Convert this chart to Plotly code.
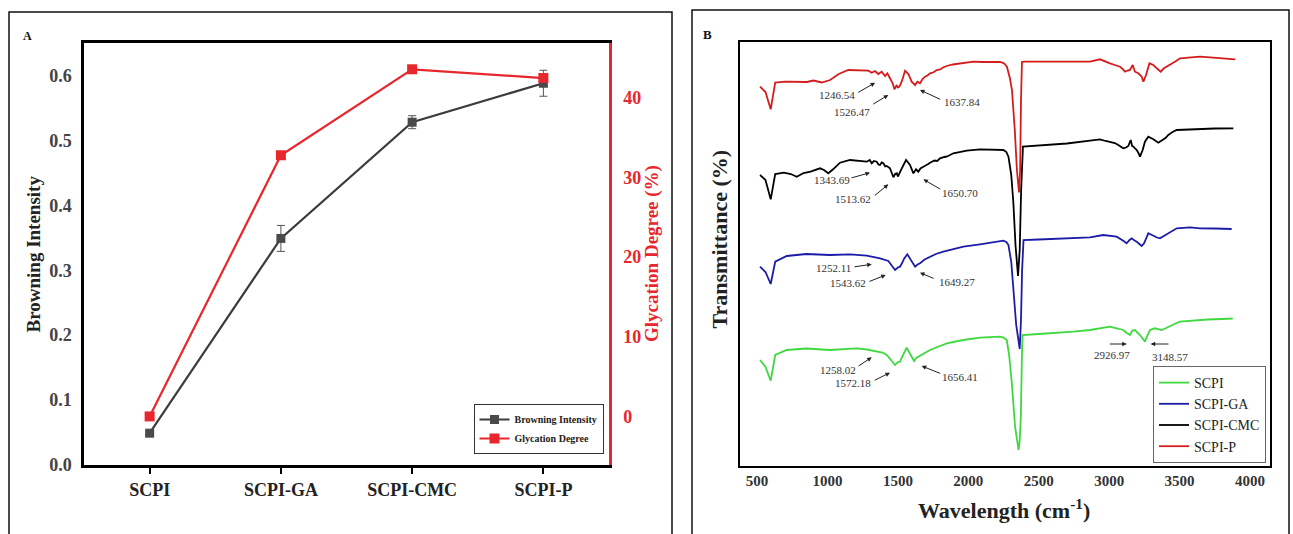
import plotly.graph_objects as go

W, H = 1293, 534
SERIF = "Liberation Serif"


def px(x):
    return x / W


def py(y):
    return 1 - y / H


# ---------------- Panel A data ----------------
categories = ["SCPI", "SCPI-GA", "SCPI-CMC", "SCPI-P"]
browning = [0.049, 0.349, 0.528, 0.588]
browning_err = [0.003, 0.02, 0.01, 0.02]
glycation = [0.0, 32.8, 43.6, 42.5]
left_ticks = [0.0, 0.1, 0.2, 0.3, 0.4, 0.5, 0.6]
right_ticks = [0, 10, 20, 30, 40]

# ---------------- Panel B data (wavenumber, transmittance a.u.) ----------------
spec_scpi = [
    (521, 106), (560, 99), (597, 85.3), (615, 100), (629, 111), (711, 116), (850, 117.5),
    (1018, 116), (1208, 117.7), (1280, 116.5), (1350, 114.3), (1390, 113.5), (1421, 111),
    (1450, 106), (1480, 101), (1500, 104), (1515, 104.3), (1530, 109), (1543, 112.7),
    (1562, 118.3), (1591, 111), (1615, 105), (1630, 108), (1645, 109.3), (1690, 113),
    (1728, 116), (1790, 119.5), (1847, 122.7), (1910, 124.5), (1965, 126), (2083, 128.3),
    (2160, 129), (2225, 129.3), (2250, 128.5), (2273, 126), (2290, 111),
    (2309, 82.7), (2332, 39.3), (2347, 26), (2357, 16), (2365, 26), (2373, 49.3),
    (2380, 106), (2385, 131), (2500, 132), (2620, 133), (2746, 134.3), (2864, 136),
    (3006, 139.3), (3060, 137.5), (3100, 136), (3125, 133), (3148, 131), (3165, 135.5),
    (3183, 136), (3200, 133.5), (3219, 131), (3240, 127), (3254, 124.3), (3270, 130),
    (3290, 136), (3325, 137.7), (3373, 136), (3405, 138), (3432, 140), (3470, 142.5),
    (3503, 144.3), (3621, 146), (3700, 146.5), (3800, 147), (3877, 147.5),
]
spec_ga = [
    (521, 199.3), (560, 194), (597, 182), (615, 194), (629, 204.3), (711, 210), (850, 212),
    (1018, 211), (1160, 211.7), (1279, 210.3), (1373, 207.7), (1432, 205), (1460, 200),
    (1480, 196), (1500, 198.5), (1515, 199.3), (1530, 203), (1543, 207), (1567, 211.7),
    (1598, 204.3), (1622, 199.3), (1640, 201.5), (1657, 202.7), (1690, 206.5),
    (1728, 209.3), (1770, 212), (1823, 214.3), (1900, 217), (1965, 219.3), (2083, 221.7),
    (2160, 223.5), (2249, 225.3), (2270, 224), (2285, 221),
    (2305, 204), (2320, 173), (2340, 141), (2365, 117), (2374, 146), (2382, 196),
    (2392, 226), (2500, 226.5), (2700, 227.5), (2864, 228.7), (2958, 231), (3053, 229.3),
    (3100, 225.3), (3124, 222.7), (3145, 226), (3160, 227.7), (3180, 225.5), (3196, 224.3),
    (3231, 220), (3248, 222.7), (3278, 232.7), (3314, 230), (3340, 228.5), (3361, 227.7),
    (3408, 232), (3445, 235), (3480, 237.7), (3574, 238.7), (3645, 237.7), (3750, 237.5),
    (3870, 237),
]
spec_cmc = [
    (521, 291), (560, 286), (597, 266.7), (615, 281), (629, 292), (690, 293.3), (740, 292),
    (782, 289.3), (830, 293), (880, 294.3), (947, 297.7), (975, 296), (1006, 292.7),
    (1040, 296.7), (1089, 303.3), (1160, 306), (1231, 305.3), (1279, 304.3), (1300, 306),
    (1314, 302.7), (1330, 305), (1350, 304.3), (1362, 301.5), (1373, 301), (1385, 303.5),
    (1397, 302.7), (1410, 299.5), (1421, 300), (1444, 297.7), (1468, 288.7), (1480, 292),
    (1492, 292.7), (1500, 289.5), (1515, 294.3), (1534, 299.3), (1558, 306), (1586, 301),
    (1610, 292.7), (1620, 295.5), (1629, 296.7), (1645, 294.3), (1660, 297.5),
    (1681, 299.3), (1700, 300.5), (1715, 302), (1728, 303.3), (1760, 305.5), (1780, 305),
    (1799, 307.7), (1830, 309), (1850, 309.5), (1894, 312.7), (1940, 314), (1989, 315.3),
    (2083, 316.7), (2150, 316.5), (2249, 316), (2270, 314), (2285, 309.3),
    (2305, 291), (2320, 263), (2335, 221), (2353, 190), (2365, 216), (2375, 276),
    (2388, 319.3), (2500, 320.5), (2700, 322.5), (2864, 325.3), (2935, 326.7), (2975, 325),
    (3006, 324.3), (3040, 323), (3065, 321), (3085, 319), (3100, 317.7), (3120, 318.5),
    (3136, 320), (3153, 326), (3163, 320), (3172, 319.3), (3185, 317.5), (3196, 316),
    (3208, 313), (3219, 309.3), (3238, 316), (3254, 324.3), (3278, 329.3), (3314, 326.7),
    (3349, 323.3), (3373, 325.3), (3400, 328), (3420, 331), (3450, 334), (3480, 336),
    (3574, 336.7), (3645, 337), (3750, 337.5), (3882, 337.7),
]
spec_p = [
    (521, 379.3), (560, 374), (597, 356.7), (615, 371), (629, 383.3), (700, 384.3),
    (780, 384), (854, 384), (900, 385.5), (960, 383.5), (1019, 386), (1080, 392),
    (1148, 396), (1210, 396), (1267, 396), (1290, 395.3), (1314, 393.3), (1338, 395),
    (1361, 392), (1385, 394.3), (1409, 390), (1425, 392.7), (1444, 387.7), (1463, 382.7),
    (1475, 376.7), (1492, 381), (1500, 378.5), (1511, 379.3), (1527, 384.3), (1551, 395.3),
    (1574, 392), (1598, 384.3), (1622, 381), (1638, 384.3), (1657, 382.7), (1675, 387),
    (1693, 389.3), (1710, 390.5), (1728, 392.7), (1750, 393.5), (1776, 396), (1800, 396.5),
    (1820, 398.5), (1847, 400), (1890, 401.5), (1941, 402.7), (2036, 404.3),
    (2100, 404), (2227, 404), (2255, 402.5), (2274, 399.3), (2295, 388), (2310, 376),
    (2330, 336), (2345, 296), (2360, 273.6), (2368, 296), (2374, 366), (2381, 404),
    (2400, 404.3), (2600, 404), (2800, 404), (2864, 404.3), (2935, 406.7), (2970, 404.5),
    (3006, 402.7), (3040, 401), (3077, 399.3), (3095, 397), (3112, 394.3), (3130, 395.5),
    (3148, 396), (3167, 401), (3183, 394.3), (3207, 392.7), (3231, 389.3), (3243, 384.3),
    (3262, 391), (3286, 402.7), (3314, 401), (3338, 397.7), (3366, 394.3), (3389, 397.7),
    (3432, 401), (3470, 404.5), (3503, 407.7), (3574, 408.7), (3645, 409.3), (3716, 408.7),
    (3800, 407.5), (3895, 406.7),
]
spectra_names = ["SCPI", "SCPI-GA", "SCPI-CMC", "SCPI-P"]
spectra_colors = ["#3fd83f", "#1c1ca8", "#000000", "#d41c1c"]
wn_ticks = [500, 1000, 1500, 2000, 2500, 3000, 3500, 4000]

# peak labels: text, text position, arrow tail, arrow head
peak_labels = [
    ("1246.54", 1066, 371, 1208, 372.7, 1338, 383.3),
    ("1526.47", 1172, 354.3, 1314, 361, 1432, 371),
    ("1637.84", 1953, 364.3, 1811, 366, 1657, 376),
    ("1343.69", 1030, 286, 1160, 287.7, 1302, 293.3),
    ("1513.62", 1184, 266.7, 1326, 269.3, 1432, 281.7),
    ("1650.70", 1942, 273.3, 1811, 276, 1681, 286.7),
    ("1252.11", 1042, 197.7, 1181, 199, 1314, 201.7),
    ("1543.62", 1148, 182.7, 1288, 184, 1414, 191),
    ("1649.27", 1919, 184.3, 1764, 187, 1657, 193.3),
    ("1258.02", 1078, 96, 1210, 99, 1314, 108.7),
    ("1572.18", 1184, 82.7, 1324, 85, 1444, 93.3),
    ("1656.41", 1941, 89.3, 1811, 92, 1669, 100),
    ("2926.97", 3018, 111, 2994, 122, 3125, 122),
    ("3148.57", 3432, 108.7, 3432, 122, 3295, 122),
]

fig = go.Figure()

# ---------------- Panel A traces ----------------
fig.add_trace(go.Scatter(
    x=categories, y=browning, name="Browning Intensity", mode="lines+markers",
    line=dict(color="#3c3c3c", width=2.2),
    marker=dict(symbol="square", size=9, color="#4a4a4a"),
    error_y=dict(type="data", array=browning_err, color="#555555", thickness=1, width=4),
    xaxis="x", yaxis="y", legend="legend",
))
fig.add_trace(go.Scatter(
    x=categories, y=glycation, name="Glycation Degree", mode="lines+markers",
    line=dict(color="#e8262d", width=2.2),
    marker=dict(symbol="square", size=10, color="#e8262d"),
    xaxis="x", yaxis="y2", legend="legend",
))

# ---------------- Panel B traces ----------------
for spec, name, color in zip([spec_scpi, spec_ga, spec_cmc, spec_p], spectra_names, spectra_colors):
    fig.add_trace(go.Scatter(
        x=[p[0] for p in spec], y=[p[1] for p in spec], name=name, mode="lines",
        line=dict(color=color, width=1.8),
        xaxis="x2", yaxis="y3", legend="legend2",
    ))

annotations = []
for txt, tx, ty, ax_, ay_, hx, hy in peak_labels:
    annotations.append(dict(
        x=tx, y=ty, xref="x2", yref="y3", text=txt, showarrow=False,
        xanchor="center", yanchor="middle",
        font=dict(family=SERIF, size=11, color="#333333"),
    ))
    annotations.append(dict(
        x=hx, y=hy, ax=ax_, ay=ay_, xref="x2", yref="y3", axref="x2", ayref="y3",
        text="", showarrow=True, arrowhead=2, arrowsize=0.9, arrowwidth=1,
        arrowcolor="#222222", standoff=0, startstandoff=0,
    ))


def label(x, y, text, size, color="#222222", angle=0, bold=True):
    return dict(
        x=px(x), y=py(y), xref="paper", yref="paper", text=text, textangle=angle,
        showarrow=False, xanchor="center", yanchor="middle",
        font=dict(family=SERIF, size=size, weight="bold" if bold else "normal", color=color),
    )


# axis titles and panel letters
annotations += [
    label(33, 254.5, "Browning Intensity", 19, angle=-90),
    label(652, 254, "Glycation Degree (%)", 19, color="#e8262d", angle=-90),
    label(719, 239.5, "Transmittance (%)", 22, angle=-90),
    label(1003.5, 509, "Wavelength (cm<sup>-1</sup>)", 22),
    label(27, 36, "A", 12, color="#111111"),
    label(707, 34, "B", 13, color="#111111"),
]

shapes = [
    dict(type="rect", xref="paper", yref="paper", x0=px(9), x1=px(672), y0=py(545), y1=py(12),
         line=dict(color="#111111", width=1.5), fillcolor="rgba(0,0,0,0)", layer="below"),
    dict(type="rect", xref="paper", yref="paper", x0=px(692), x1=px(1289), y0=py(545), y1=py(10),
         line=dict(color="#111111", width=1.5), fillcolor="rgba(0,0,0,0)", layer="below"),
]

fig.update_layout(
    width=W, height=H, margin=dict(l=0, r=0, t=0, b=0, autoexpand=False),
    paper_bgcolor="white", plot_bgcolor="white",
    showlegend=True,
    annotations=annotations, shapes=shapes,
    xaxis=dict(
        domain=[px(84), px(609)], range=[-0.5, 3.5], type="category",
        showline=True, linecolor="#000000", linewidth=2.5, mirror=True,
        ticks="outside", ticklen=6, tickwidth=1.5, tickcolor="#000000",
        showgrid=False, zeroline=False, ticklabelstandoff=1, automargin=False,
        tickfont=dict(family=SERIF, size=18, weight="bold", color="#222222"),
        anchor="y",
    ),
    yaxis=dict(
        domain=[py(465), py(43)], range=[0, 0.650], tickvals=left_ticks,
        tickformat=".1f", showline=True, linecolor="#000000", linewidth=2.5,
        ticks="", showgrid=False, zeroline=False, ticklabelstandoff=6, automargin=False,
        tickfont=dict(family=SERIF, size=18, weight="bold", color="#444444"),
        anchor="x",
    ),
    yaxis2=dict(
        overlaying="y", side="right", range=[-6.1, 46.9], tickvals=right_ticks,
        showline=True, linecolor="#e8262d", linewidth=2.5, ticks="",
        showgrid=False, zeroline=False, ticklabelstandoff=8, automargin=False,
        tickfont=dict(family=SERIF, size=18, weight="bold", color="#e8262d"),
        anchor="x",
    ),
    xaxis2=dict(
        domain=[px(740), px(1270)], range=[379, 4142], tickvals=wn_ticks,
        showline=True, linecolor="#000000", linewidth=2, mirror=True,
        ticks="", showgrid=False, zeroline=False, ticklabelstandoff=0, automargin=False,
        tickfont=dict(family=SERIF, size=15, weight="bold", color="#333333"),
        anchor="y3",
    ),
    yaxis3=dict(
        domain=[py(466), py(41.5)], range=[0, 424.5], showticklabels=False,
        showline=True, linecolor="#000000", linewidth=2, mirror=True,
        ticks="", showgrid=False, zeroline=False, anchor="x2", automargin=False,
    ),
    legend=dict(
        x=px(603.5), y=py(454), xanchor="right", yanchor="bottom",
        font=dict(family=SERIF, size=10, weight="bold", color="#222222"),
        bordercolor="#333333", borderwidth=1, bgcolor="white",
        tracegroupgap=0, itemwidth=30,
    ),
    legend2=dict(
        x=px(1266), y=py(463), xanchor="right", yanchor="bottom",
        font=dict(family=SERIF, size=14, color="#222222"),
        bordercolor="#666666", borderwidth=1, bgcolor="white",
        tracegroupgap=0, itemwidth=30,
    ),
)

fig.write_html(
    "out.html",
    config={"displayModeBar": False},
    post_script="document.body.style.margin='0px';document.body.style.overflow='hidden';",
)
